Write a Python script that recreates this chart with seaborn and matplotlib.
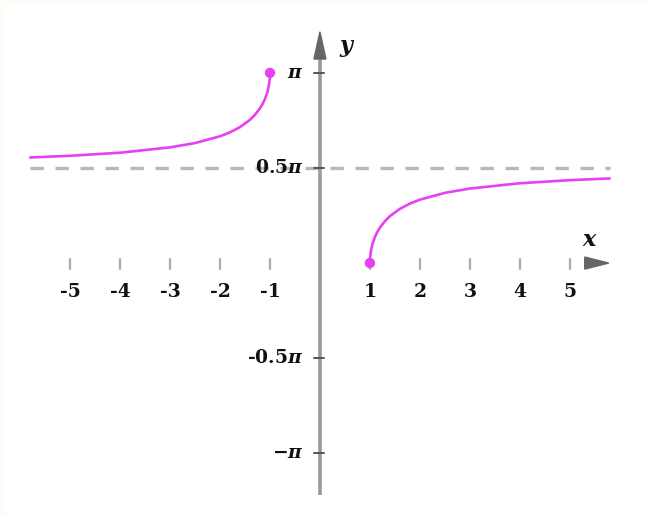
import numpy as np
import pandas as pd
import seaborn as sns
import matplotlib.pyplot as plt
from matplotlib.patches import Polygon

# y = arcsec(x)
left_x = [-5.8, -5, -4, -3, -2.5, -2, -1.8, -1.6, -1.4, -1.3, -1.2, -1.15, -1.1, -1.05, -1.02, -1.005, -1.0]
left_y = [1.744, 1.772, 1.823, 1.911, 1.982, 2.094, 2.159, 2.246, 2.366, 2.449, 2.556, 2.626, 2.711, 2.829, 2.943, 3.042, 3.1416]
right_x = [1.0, 1.005, 1.02, 1.05, 1.1, 1.15, 1.2, 1.3, 1.4, 1.6, 1.8, 2, 2.5, 3, 4, 5, 5.8]
right_y = [0.0, 0.0998, 0.199, 0.3126, 0.4297, 0.5155, 0.5857, 0.6924, 0.7752, 0.8957, 0.9818, 1.0472, 1.1593, 1.2310, 1.3181, 1.3694, 1.3976]
end_x = [-1.0, 1.0]
end_y = [np.pi, 0.0]

x_ticks = [-5, -4, -3, -2, -1, 1, 2, 3, 4, 5]
y_ticks = [np.pi, 0.5 * np.pi, -0.5 * np.pi, -np.pi]
y_labels = [r"$\boldsymbol{\pi}$", r"0.5$\boldsymbol{\pi}$",
            r"-0.5$\boldsymbol{\pi}$", r"$\mathbf{-}\boldsymbol{\pi}$"]

sns.set_style("white")
plt.rcParams['font.family'] = ['DejaVu Serif']
plt.rcParams['mathtext.fontset'] = 'dejavuserif'

magenta = '#e93ef2'
fig = plt.figure(figsize=(6.47, 5.16), dpi=100)
fig.patch.set_facecolor('#fdfcf7')
ax = fig.add_axes([0.008, 0, 0.99, 0.99])
ax.set_facecolor('white')
ax.set_xlim(-6.3, 6.52)
ax.set_ylim(-4.178, 4.26)
ax.set_xticks([])
ax.set_yticks([])
for s in ax.spines.values():
    s.set_visible(False)

# asymptote
ax.plot([-5.8, 5.8], [0.5 * np.pi, 0.5 * np.pi], color='#b8b8b8', lw=2.4,
        dashes=(4, 3.5), zorder=1)

# axes
ax.plot([0, 0], [-3.83, 3.45], color='#9a9a9a', lw=2.6, solid_capstyle='butt', zorder=2)
ax.add_patch(Polygon([[-0.12, 3.37], [0.12, 3.37], [0, 3.82]], closed=True,
                     color='#666666', zorder=3))
ax.add_patch(Polygon([[5.3, -0.1], [5.3, 0.1], [5.78, 0]], closed=True,
                     color='#666666', zorder=3))

for t in x_ticks:
    ax.plot([t, t], [-0.09, 0.07], color='#aaaaaa', lw=1.6, zorder=2)
    ax.text(t, -0.47, str(t), ha='center', va='center', fontsize=13.5,
            fontweight='bold', color='#111111')
for t, lab in zip(y_ticks, y_labels):
    ax.plot([-0.12, 0.08], [t, t], color='#555555', lw=1.4, zorder=3)
    ax.text(-0.33, t, lab, ha='right', va='center', fontsize=13.5,
            fontweight='bold', color='#111111')

ax.text(5.4, 0.38, r"$\boldsymbol{x}$", ha='center', va='center', fontsize=16,
        color='#111111')
ax.text(0.54, 3.55, r"$\boldsymbol{y}$", ha='center', va='center', fontsize=16,
        color='#111111')

# curve branches
left = pd.DataFrame({'x': left_x, 'y': left_y})
right = pd.DataFrame({'x': right_x, 'y': right_y})
sns.lineplot(data=left, x='x', y='y', sort=False, color=magenta, lw=1.9, ax=ax, zorder=4)
sns.lineplot(data=right, x='x', y='y', sort=False, color=magenta, lw=1.9, ax=ax, zorder=4)
sns.scatterplot(x=end_x, y=end_y, color=magenta, s=55, edgecolor='none', ax=ax, zorder=5)
ax.set_xlabel('')
ax.set_ylabel('')

fig.savefig('out.png', dpi=100, facecolor=fig.get_facecolor())
